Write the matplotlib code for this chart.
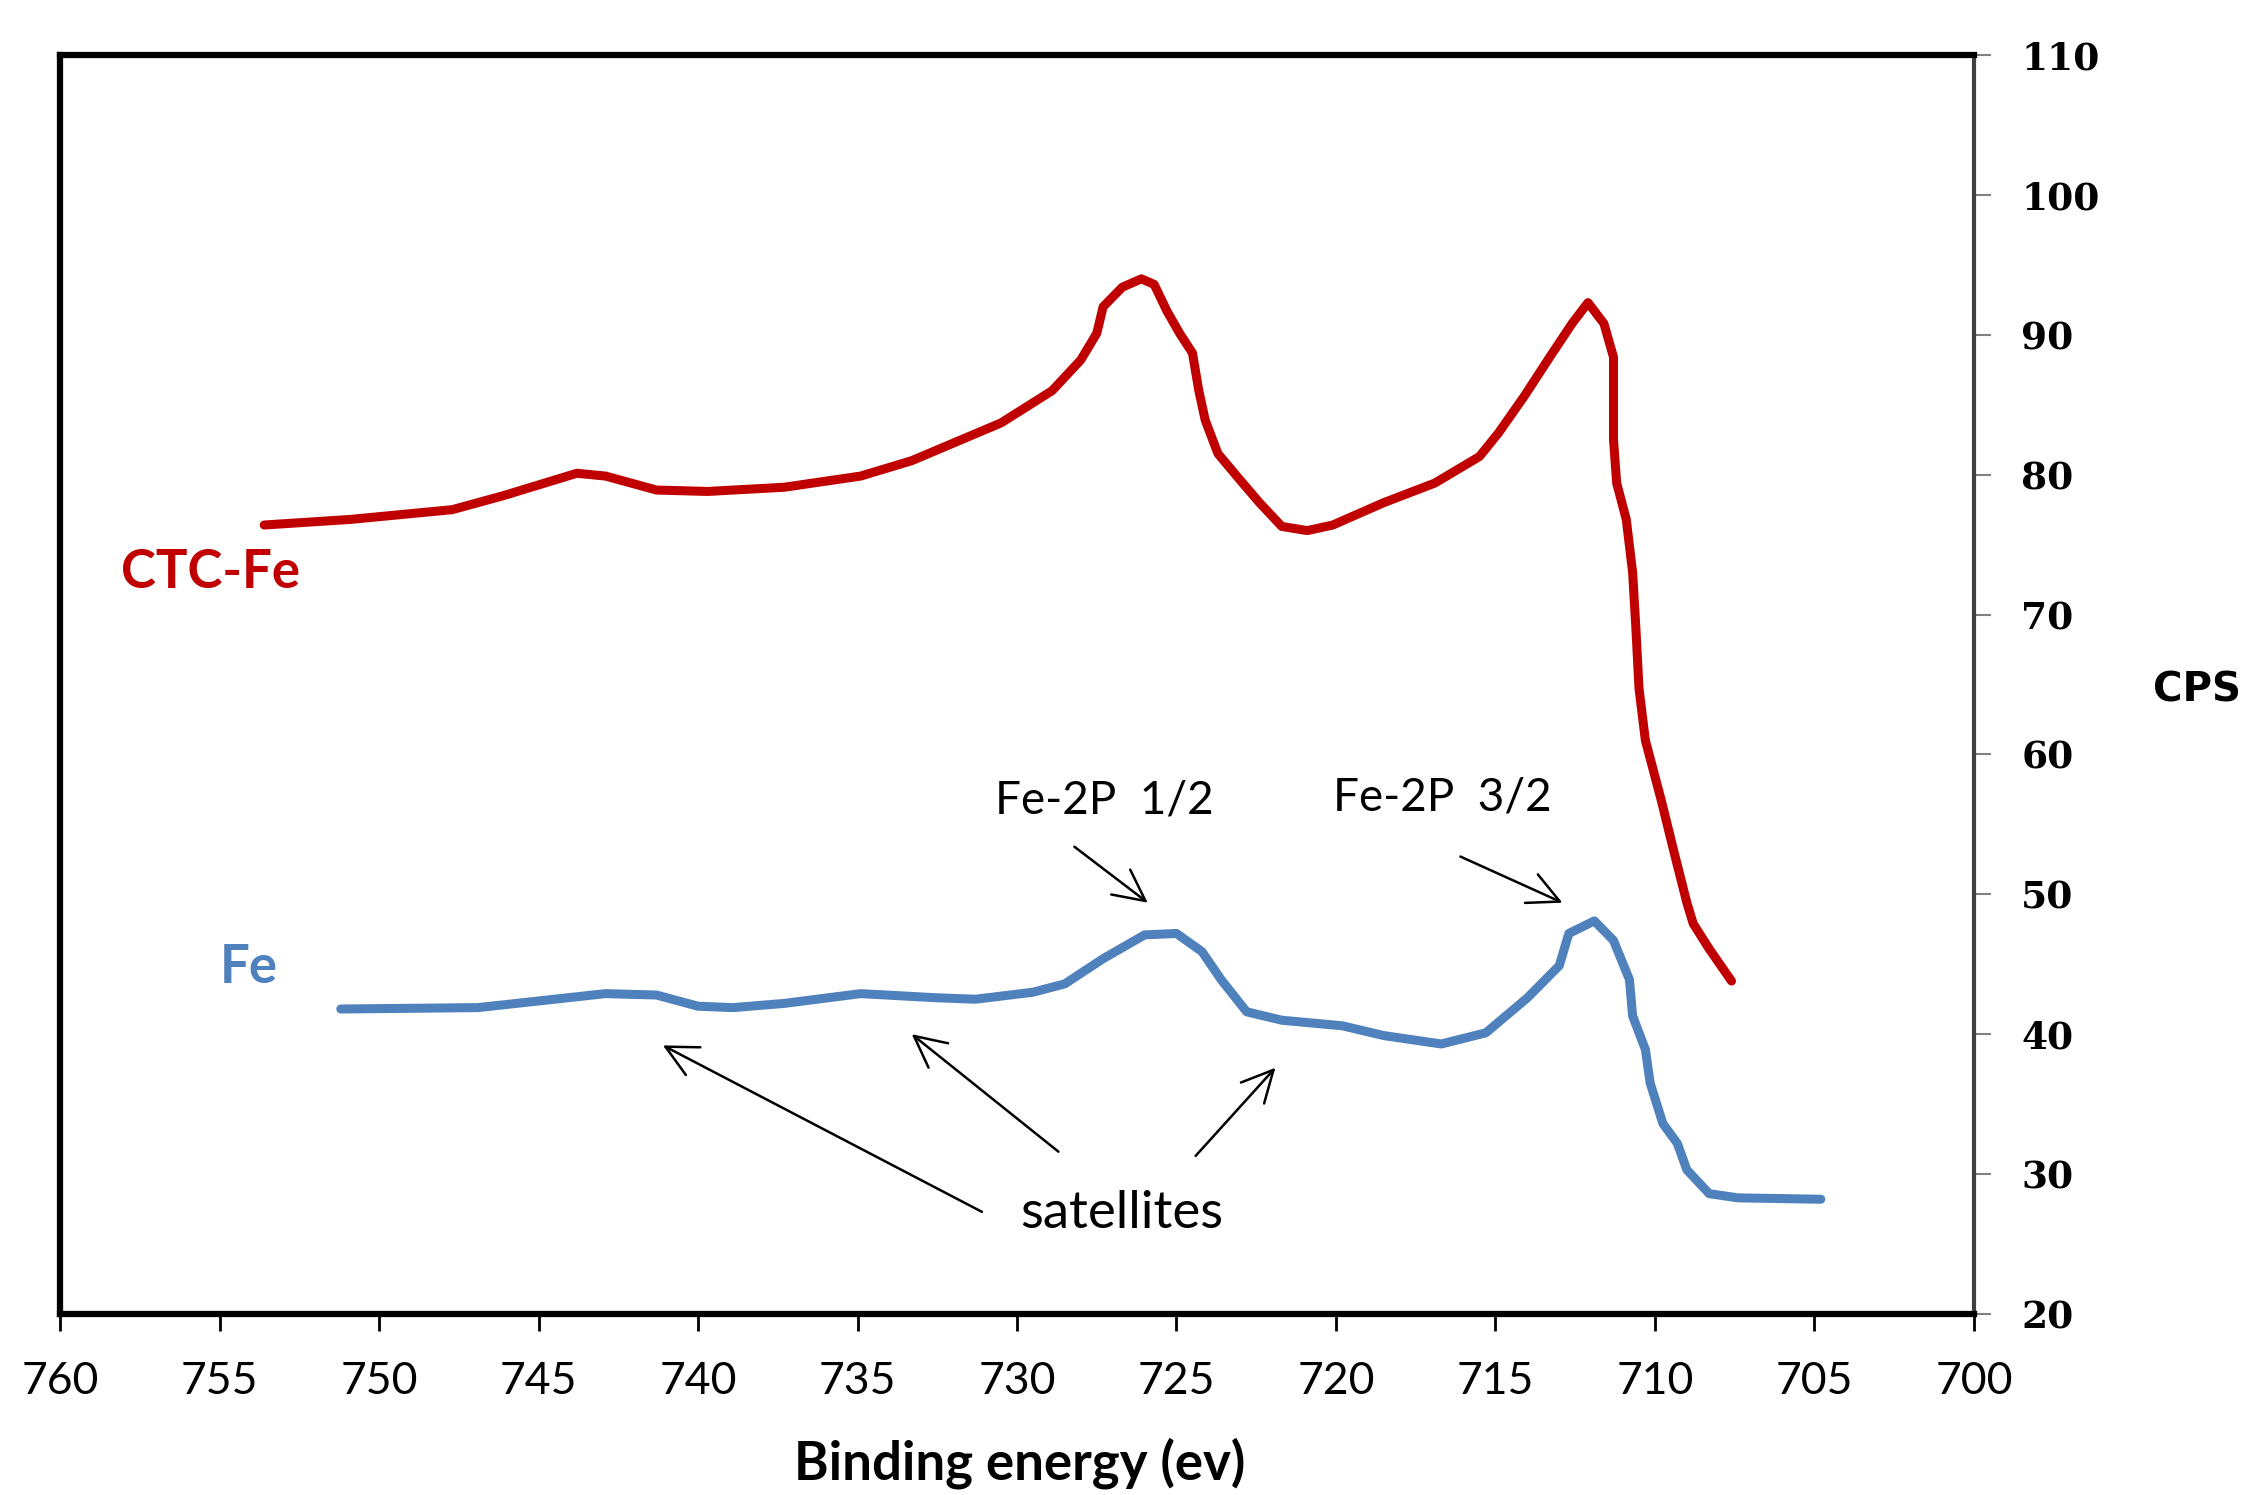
"""XPS Fe-2p spectra of CTC-Fe and Fe, redrawn with matplotlib."""

import matplotlib
matplotlib.use('Agg')
import matplotlib.pyplot as plt

# CTC-Fe curve (binding energy in eV, counts per second)
ctc_x = [753.6, 750.9, 747.7, 746.1, 743.8, 742.9, 741.3, 739.7, 737.3, 734.9,
         733.3, 730.5, 728.9, 728.0, 727.5, 727.3, 726.7, 726.1, 725.7, 725.3,
         724.9, 724.5, 724.3, 724.1, 723.7, 723.0, 722.4, 721.7, 720.9, 720.1,
         718.5, 716.9, 715.5, 714.9, 714.1, 713.3, 712.6, 712.1, 711.6, 711.3,
         711.3, 711.3, 711.2, 710.9, 710.7, 710.6, 710.5, 710.3, 709.8, 709.4,
         709.0, 708.8, 708.3, 707.6]
ctc_y = [76.4, 76.8, 77.5, 78.5, 80.1, 79.9, 78.9, 78.8, 79.1, 79.9,
         81.0, 83.7, 86.0, 88.2, 90.1, 92.0, 93.4, 94.0, 93.6, 91.7,
         90.1, 88.7, 86.0, 83.9, 81.5, 79.6, 78.0, 76.3, 76.0, 76.4,
         78.0, 79.4, 81.3, 83.0, 85.6, 88.4, 90.8, 92.3, 90.8, 88.4,
         86.0, 82.5, 79.4, 76.8, 73.0, 69.1, 64.7, 61.0, 56.7, 53.0,
         49.4, 47.9, 46.1, 43.8]

# Fe curve
fe_x = [751.2, 746.9, 744.5, 742.9, 741.3, 740.0, 738.9, 737.3, 734.9, 732.5,
        731.3, 729.5, 728.5, 727.3, 726.0, 725.0, 724.2, 723.6, 722.8, 721.7,
        719.8, 718.5, 716.7, 715.3, 714.0, 713.0, 712.7, 711.9, 711.3, 710.8,
        710.7, 710.3, 710.15, 709.75, 709.3, 709.0, 708.3, 707.4, 704.8]
fe_y = [41.8, 41.9, 42.5, 42.9, 42.8, 42.0, 41.9, 42.2, 42.9, 42.6,
        42.5, 43.0, 43.6, 45.4, 47.1, 47.2, 45.9, 43.9, 41.6, 41.0,
        40.6, 39.9, 39.3, 40.1, 42.6, 44.9, 47.2, 48.1, 46.7, 43.9,
        41.3, 38.9, 36.5, 33.6, 32.2, 30.3, 28.6, 28.3, 28.2]

x_ticks = list(range(760, 699, -5))
y_ticks = list(range(20, 111, 10))

# annotation arrows: (tail, head) in data coordinates
peak_arrows = [((728.2, 53.4), (725.9, 49.4)),
               ((716.1, 52.7), (712.9, 49.4))]
sat_arrows = [((731.1, 27.3), (741.1, 39.2)),
              ((728.7, 31.6), (733.3, 40.0)),
              ((724.4, 31.3), (721.9, 37.6))]

RED = '#C00000'
BLUE = '#4F81BD'
LABEL = ['Lato', 'DejaVu Sans']

fig = plt.figure(figsize=(22.49, 14.95), dpi=100)
ax = fig.add_axes([0.0267, 0.1211, 0.851, 0.8421])

ax.plot(ctc_x, ctc_y, color=RED, lw=6.5, solid_joinstyle='round', solid_capstyle='round')
ax.plot(fe_x, fe_y, color=BLUE, lw=6.5, solid_joinstyle='round', solid_capstyle='round')

ax.set_xlim(760, 700)
ax.set_ylim(20, 110)

# frame: thick black on three sides, thinner dark axis line on the right
for side in ['left', 'top', 'bottom']:
    ax.spines[side].set_linewidth(4.5)
    ax.spines[side].set_color('black')
ax.spines['right'].set_linewidth(3)
ax.spines['right'].set_color('#404040')

ax.set_xticks(x_ticks)
ax.set_xticklabels([str(v) for v in x_ticks], fontsize=32, family=LABEL)
ax.tick_params(axis='x', direction='out', length=12, width=2, color='black', pad=22)

ax.yaxis.tick_right()
ax.set_yticks(y_ticks)
ax.set_yticklabels([str(v) for v in y_ticks], fontsize=27, family='DejaVu Serif',
                   fontweight='bold')
ax.tick_params(axis='y', direction='out', length=12, width=1.5, color='#808080', pad=22)

# curve labels
ax.text(758.1, 73.0, 'CTC-Fe', color=RED, fontsize=38, fontweight='bold',
        family=LABEL, ha='left', va='center')
ax.text(755.0, 44.8, 'Fe', color=BLUE, fontsize=38, fontweight='bold',
        family=LABEL, ha='left', va='center')

ax.text(730.7, 56.7, 'Fe-2P  1/2', fontsize=33, family=LABEL, ha='left', va='center')
ax.text(720.1, 56.9, 'Fe-2P  3/2', fontsize=33, family=LABEL, ha='left', va='center')
ax.text(729.9, 27.2, 'satellites', fontsize=38, family=LABEL, ha='left', va='center')

arrow_props = dict(arrowstyle='->, head_length=0.5, head_width=0.25', lw=1.8,
                   color='black', mutation_scale=45, shrinkA=0, shrinkB=0)
for tail, head in peak_arrows + sat_arrows:
    ax.annotate('', xy=head, xytext=tail, arrowprops=arrow_props)

fig.text(1020 / 2249, 1 - 1463 / 1495, 'Binding energy (ev)', fontsize=38,
         fontweight='bold', family=LABEL, ha='center', va='center')
fig.text(2197 / 2249, 1 - 690 / 1495, 'CPS', fontsize=29, fontweight='bold',
         family='DejaVu Sans', ha='center', va='center')

fig.savefig('out.png', dpi=100, facecolor='white')
